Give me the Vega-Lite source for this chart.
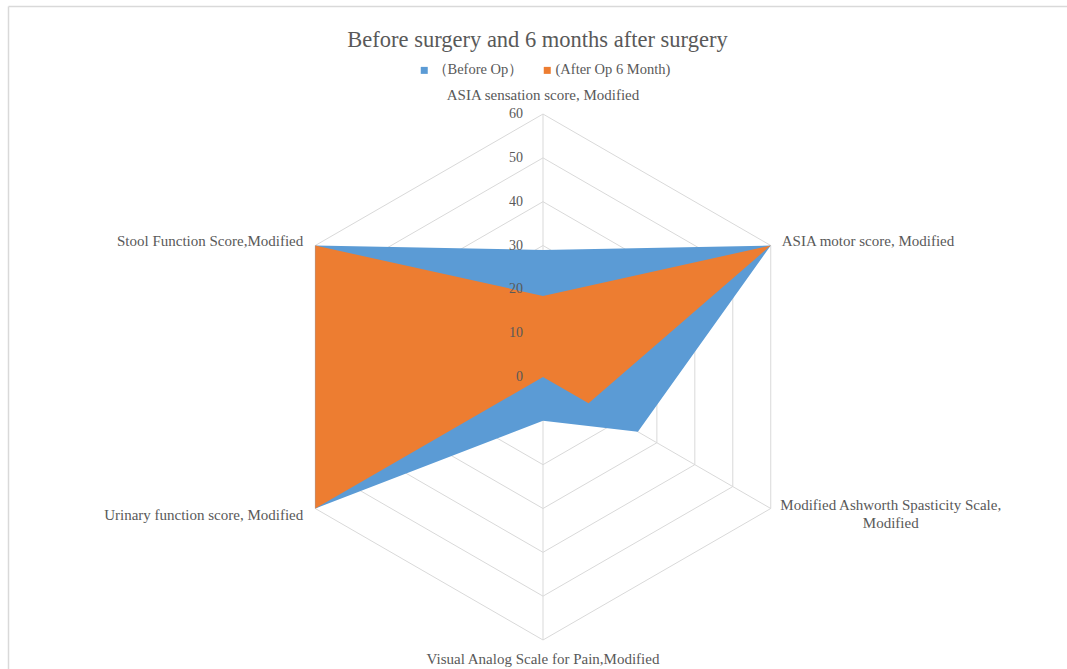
{
  "$schema": "https://vega.github.io/schema/vega-lite/v6.json",
  "autosize": {"type": "none"},
  "padding": {"left": 8, "top": 6, "right": 0, "bottom": 0},
  "width": 1059,
  "height": 663,
  "background": "white",
  "config": {
    "view": {"stroke": null},
    "text": {"font": "Liberation Serif", "fontSize": 15, "color": "#595959"}
  },
  "title": {
    "text": "Before surgery and 6 months after surgery",
    "font": "Liberation Serif",
    "fontSize": 22.5,
    "fontWeight": "normal",
    "color": "#595959",
    "anchor": "middle",
    "frame": "group",
    "baseline": "middle",
    "offset": 0,
    "dy": 56
  },
  "datasets": {
    "scores": [
      {"series": "（Before Op）", "idx": 0, "axis": "ASIA sensation score, Modified", "value": 29},
      {"series": "（Before Op）", "idx": 1, "axis": "ASIA motor score, Modified", "value": 60},
      {"series": "（Before Op）", "idx": 2, "axis": "Modified Ashworth Spasticity Scale, Modified", "value": 25},
      {"series": "（Before Op）", "idx": 3, "axis": "Visual Analog Scale for Pain,Modified", "value": 10},
      {"series": "（Before Op）", "idx": 4, "axis": "Urinary function score, Modified", "value": 60},
      {"series": "（Before Op）", "idx": 5, "axis": "Stool Function Score,Modified", "value": 60},
      {"series": "(After Op 6 Month)", "idx": 0, "axis": "ASIA sensation score, Modified", "value": 18.5},
      {"series": "(After Op 6 Month)", "idx": 1, "axis": "ASIA motor score, Modified", "value": 60},
      {"series": "(After Op 6 Month)", "idx": 2, "axis": "Modified Ashworth Spasticity Scale, Modified", "value": 12},
      {"series": "(After Op 6 Month)", "idx": 3, "axis": "Visual Analog Scale for Pain,Modified", "value": 0},
      {"series": "(After Op 6 Month)", "idx": 4, "axis": "Urinary function score, Modified", "value": 60},
      {"series": "(After Op 6 Month)", "idx": 5, "axis": "Stool Function Score,Modified", "value": 60}
    ],
    "axes": [
      {"idx": 0, "label": "ASIA sensation score, Modified", "r": [0, 60]},
      {"idx": 1, "label": "ASIA motor score, Modified", "r": [0, 60]},
      {"idx": 2, "label": "Modified Ashworth Spasticity Scale,\nModified", "r": [0, 60]},
      {"idx": 3, "label": "Visual Analog Scale for Pain,Modified", "r": [0, 60]},
      {"idx": 4, "label": "Urinary function score, Modified", "r": [0, 60]},
      {"idx": 5, "label": "Stool Function Score,Modified", "r": [0, 60]}
    ],
    "rings": [
      {"ring": 10, "k": [0, 1, 2, 3, 4, 5, 6]},
      {"ring": 20, "k": [0, 1, 2, 3, 4, 5, 6]},
      {"ring": 30, "k": [0, 1, 2, 3, 4, 5, 6]},
      {"ring": 40, "k": [0, 1, 2, 3, 4, 5, 6]},
      {"ring": 50, "k": [0, 1, 2, 3, 4, 5, 6]},
      {"ring": 60, "k": [0, 1, 2, 3, 4, 5, 6]}
    ],
    "ticks": [
      {"tick": 0}, {"tick": 10}, {"tick": 20}, {"tick": 30}, {"tick": 40}, {"tick": 50}, {"tick": 60}
    ]
  },
  "encoding": {
    "x": {
      "field": "px", "type": "quantitative",
      "scale": {"domain": [-122.06, 119.55], "nice": false, "zero": false},
      "axis": {"orient": "top", "domain": true, "domainColor": "#D9D9D9", "domainWidth": 1.5, "ticks": false, "labels": false, "grid": false, "title": null}
    },
    "y": {
      "field": "py", "type": "quantitative",
      "scale": {"domain": [-66.62, 84.65], "nice": false, "zero": false},
      "axis": {"orient": "left", "domain": true, "domainColor": "#D9D9D9", "domainWidth": 1.5, "ticks": false, "labels": false, "grid": false, "title": null}
    }
  },
  "layer": [
    {
      "data": {"name": "rings"},
      "transform": [
        {"flatten": ["k"]},
        {"calculate": "datum.ring * sin(datum.k * PI / 3)", "as": "px"},
        {"calculate": "datum.ring * cos(datum.k * PI / 3)", "as": "py"}
      ],
      "mark": {"type": "line", "stroke": "#D9D9D9", "strokeWidth": 1},
      "encoding": {
        "detail": {"field": "ring", "type": "nominal"},
        "order": {"field": "k", "type": "quantitative"}
      }
    },
    {
      "data": {"name": "axes"},
      "transform": [
        {"flatten": ["r"]},
        {"calculate": "datum.r * sin(datum.idx * PI / 3)", "as": "px"},
        {"calculate": "datum.r * cos(datum.idx * PI / 3)", "as": "py"}
      ],
      "mark": {"type": "line", "stroke": "#D9D9D9", "strokeWidth": 1},
      "encoding": {
        "detail": {"field": "idx", "type": "nominal"},
        "order": {"field": "r", "type": "quantitative"}
      }
    },
    {
      "data": {"name": "scores"},
      "transform": [
        {"filter": "datum.series === '（Before Op）'"},
        {"calculate": "datum.value * sin(datum.idx * PI / 3)", "as": "px"},
        {"calculate": "datum.value * cos(datum.idx * PI / 3)", "as": "py"}
      ],
      "mark": {"type": "line", "strokeWidth": 0, "stroke": null, "fillOpacity": 1},
      "encoding": {
        "fill": {
          "field": "series", "type": "nominal",
          "scale": {"domain": ["（Before Op）", "(After Op 6 Month)"], "range": ["#5B9BD5", "#ED7D31"]},
          "legend": {
            "orient": "none", "legendX": 409, "legendY": 57, "direction": "horizontal", "title": null,
            "symbolType": "square", "symbolSize": 49, "symbolStrokeWidth": 0,
            "labelFont": "Liberation Serif", "labelFontSize": 14.5, "labelColor": "#595959",
            "labelOffset": 1, "columnPadding": 16
          }
        },
        "order": {"field": "idx", "type": "quantitative"}
      }
    },
    {
      "data": {"name": "scores"},
      "transform": [
        {"filter": "datum.series === '(After Op 6 Month)'"},
        {"calculate": "datum.value * sin(datum.idx * PI / 3)", "as": "px"},
        {"calculate": "datum.value * cos(datum.idx * PI / 3)", "as": "py"}
      ],
      "mark": {"type": "line", "strokeWidth": 0, "stroke": null, "fillOpacity": 1},
      "encoding": {
        "fill": {"field": "series", "type": "nominal"},
        "order": {"field": "idx", "type": "quantitative"}
      }
    },
    {
      "data": {"name": "ticks"},
      "transform": [
        {"calculate": "0", "as": "px"},
        {"calculate": "datum.tick", "as": "py"}
      ],
      "mark": {"type": "text", "align": "right", "baseline": "middle", "dx": -20, "fontSize": 14},
      "encoding": {"text": {"field": "tick", "type": "quantitative"}}
    },
    {
      "data": {"name": "axes"},
      "transform": [
        {"filter": "datum.idx === 0"},
        {"calculate": "60 * sin(datum.idx * PI / 3)", "as": "px"},
        {"calculate": "60 * cos(datum.idx * PI / 3)", "as": "py"}
      ],
      "mark": {"type": "text", "align": "center", "baseline": "middle", "dy": -19},
      "encoding": {"text": {"field": "label", "type": "nominal"}}
    },
    {
      "data": {"name": "axes"},
      "transform": [
        {"filter": "datum.idx === 1"},
        {"calculate": "60 * sin(datum.idx * PI / 3)", "as": "px"},
        {"calculate": "60 * cos(datum.idx * PI / 3)", "as": "py"}
      ],
      "mark": {"type": "text", "align": "left", "baseline": "middle", "dx": 11, "dy": -5},
      "encoding": {"text": {"field": "label", "type": "nominal"}}
    },
    {
      "data": {"name": "axes"},
      "transform": [
        {"filter": "datum.idx === 2"},
        {"calculate": "60 * sin(datum.idx * PI / 3)", "as": "px"},
        {"calculate": "60 * cos(datum.idx * PI / 3)", "as": "py"}
      ],
      "mark": {"type": "text", "align": "center", "baseline": "middle", "dx": 120, "dy": -3, "lineBreak": "\n", "lineHeight": 18},
      "encoding": {"text": {"field": "label", "type": "nominal"}}
    },
    {
      "data": {"name": "axes"},
      "transform": [
        {"filter": "datum.idx === 3"},
        {"calculate": "60 * sin(datum.idx * PI / 3)", "as": "px"},
        {"calculate": "60 * cos(datum.idx * PI / 3)", "as": "py"}
      ],
      "mark": {"type": "text", "align": "center", "baseline": "middle", "dy": 19},
      "encoding": {"text": {"field": "label", "type": "nominal"}}
    },
    {
      "data": {"name": "axes"},
      "transform": [
        {"filter": "datum.idx === 4"},
        {"calculate": "60 * sin(datum.idx * PI / 3)", "as": "px"},
        {"calculate": "60 * cos(datum.idx * PI / 3)", "as": "py"}
      ],
      "mark": {"type": "text", "align": "right", "baseline": "middle", "dx": -12, "dy": 7},
      "encoding": {"text": {"field": "label", "type": "nominal"}}
    },
    {
      "data": {"name": "axes"},
      "transform": [
        {"filter": "datum.idx === 5"},
        {"calculate": "60 * sin(datum.idx * PI / 3)", "as": "px"},
        {"calculate": "60 * cos(datum.idx * PI / 3)", "as": "py"}
      ],
      "mark": {"type": "text", "align": "right", "baseline": "middle", "dx": -12, "dy": -5},
      "encoding": {"text": {"field": "label", "type": "nominal"}}
    }
  ]
}
